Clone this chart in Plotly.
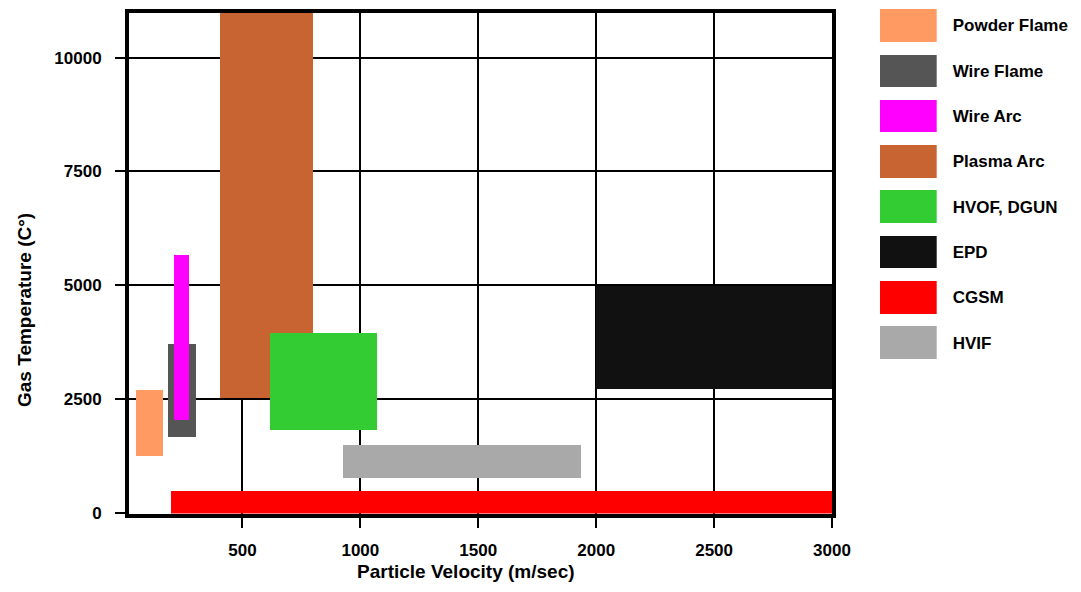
import plotly.graph_objects as go

# ---- data ----
processes = ["Powder Flame", "Wire Flame", "Wire Arc", "Plasma Arc",
             "HVOF, DGUN", "EPD", "CGSM", "HVIF"]
colors = ["#FF9A62", "#555555", "#FF00FF", "#C86432",
          "#33CC33", "#111111", "#FF0000", "#A9A9A9"]
vel_min = [50, 185, 210, 405, 615, 2000, 195, 925]
vel_max = [165, 305, 275, 800, 1070, 3000, 3000, 1935]
temp_min = [1250, 1670, 2060, 2530, 1830, 2720, -50, 780]
temp_max = [2700, 3720, 5680, 11500, 3960, 5000, 500, 1510]

x_ticks = [500, 1000, 1500, 2000, 2500, 3000]
y_ticks = [0, 2500, 5000, 7500, 10000]

PAGE_W, PAGE_H = 1081, 592
OFF = 8  # default body margin of the html page
W, H = PAGE_W - 2 * OFF, PAGE_H - 2 * OFF
FONT = "Liberation Sans"


def px_x(p):
    return (p - OFF) / W


def px_y(p):
    return (H - (p - OFF)) / H


centers = [(a + b) / 2 for a, b in zip(vel_min, vel_max)]
widths = [b - a for a, b in zip(vel_min, vel_max)]
heights = [b - a for a, b in zip(temp_min, temp_max)]

fig = go.Figure()

fig.add_trace(go.Bar(
    x=centers, width=widths, base=temp_min, y=heights,
    marker=dict(color=colors, line=dict(width=0)),
    xaxis="x", yaxis="y", showlegend=False, hoverinfo="skip",
))

# legend drawn as a small categorical subplot
fig.add_trace(go.Bar(
    x=[1] * len(processes), y=processes, orientation="h", width=0.717,
    marker=dict(color=colors, line=dict(width=0)),
    xaxis="x2", yaxis="y2", showlegend=False, hoverinfo="skip",
))

axis_common = dict(
    showline=True, linecolor="black", linewidth=4, mirror=True,
    showgrid=True, gridcolor="black", gridwidth=2,
    ticks="outside", ticklen=10, tickwidth=2, tickcolor="black",
    tickfont=dict(family=FONT, size=17, color="black", weight="bold"),
    tickformat="d", zeroline=False, automargin=False,
)

fig.update_layout(
    width=W, height=H,
    margin=dict(l=0, r=0, t=0, b=0),
    paper_bgcolor="white", plot_bgcolor="white",
    showlegend=False, bargap=0,
    xaxis=dict(domain=[px_x(129), px_x(832)], range=[19, 3000],
               tickvals=x_ticks, ticklabelstandoff=8, anchor="y",
               **axis_common),
    yaxis=dict(domain=[px_y(513.5), px_y(12.5)], range=[-16, 10993],
               tickvals=y_ticks, ticklabelstandoff=10, anchor="x",
               **axis_common),
    xaxis2=dict(domain=[px_x(880), px_x(936.7)], range=[0, 1],
                visible=False, anchor="y2", fixedrange=True),
    yaxis2=dict(domain=[px_y(365.6), px_y(8)], range=[7.508, -0.386],
                side="right", anchor="x2", showline=False, showgrid=False,
                zeroline=False, ticks="", ticklabelstandoff=15,
                tickfont=dict(family=FONT, size=17, color="black",
                              weight="bold"),
                automargin=False, fixedrange=True),
    annotations=[
        dict(text="Particle Velocity (m/sec)", xref="paper", yref="paper",
             x=px_x(466), y=0, xanchor="center", yanchor="bottom",
             showarrow=False,
             font=dict(family=FONT, size=19, color="black", weight="bold")),
        dict(text="Gas Temperature (C°)", xref="paper", yref="paper",
             x=px_x(24), y=px_y(310), xanchor="center", yanchor="middle",
             showarrow=False, textangle=-90,
             font=dict(family=FONT, size=19, color="black", weight="bold")),
    ],
)

fig.write_html("out.html")
